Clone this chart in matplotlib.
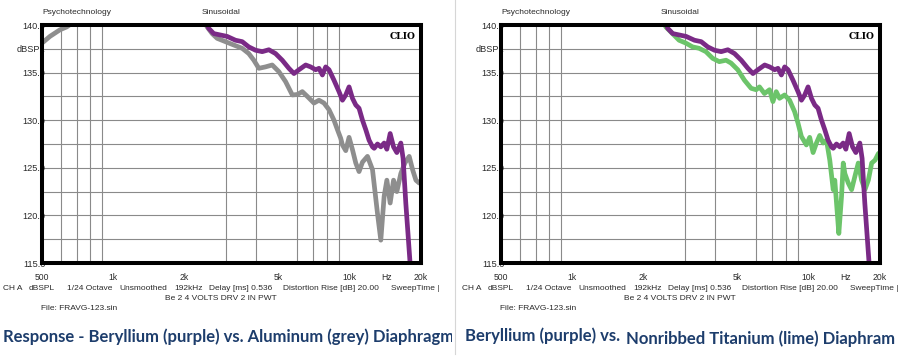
"""Two CLIO frequency-response screenshots side by side: Be vs Al, Be vs Ti."""
import matplotlib
matplotlib.use("Agg")
import matplotlib.pyplot as plt
import numpy as np
from matplotlib.ticker import FixedLocator, NullFormatter
from matplotlib.transforms import Bbox, TransformedBbox

# Beryllium (purple) - the same sweep appears on both panels
BE_F = [2470, 2533, 2659, 2839, 3031, 3287, 3510, 3742, 3995, 4264,
        4548, 4855, 5183, 5529, 5807, 6096, 6510, 6830, 7175, 7410,
        7660, 7910, 8170, 8575, 9005, 9310, 9615, 9930, 10265, 10600,
        10945, 11315, 11685, 12065, 12475, 12680, 13095, 13525, 13970, 14345,
        14815, 15310, 15810, 16435, 16800, 17250, 17700, 18100]
BE_DB = [140.4, 139.65, 139.1, 138.95, 138.8, 138.4, 138.25, 137.7, 137.35, 137.2,
         137.4, 137.0, 136.3, 135.45, 134.9, 135.3, 135.8, 135.6, 135.3, 135.45,
         134.75, 135.6, 135.3, 134.2, 133.0, 132.1, 132.65, 133.5, 132.3, 131.6,
         131.25, 130.0, 129.0, 127.9, 127.2, 127.05, 127.5, 127.2, 127.6, 126.95,
         128.6, 127.2, 126.6, 127.6, 126.0, 121.3, 117.4, 114.0]

# Aluminum (grey) - off the top of the chart between ~670 Hz and ~2.4 kHz
AL_F = [500, 540, 596, 636, 670, 1000, 2420, 2494, 2619, 2750,
        2982, 3233, 3510, 3742, 3930, 4126, 4403, 4700, 5015, 5354,
        5715, 6001, 6300, 6615, 7055, 7410, 7780, 8170, 8575, 8870,
        9155, 9310, 9615, 9930, 10265, 10600, 10945, 11315, 11880, 12475,
        13095, 13525, 13970, 14345, 14815, 15310, 15810, 16435, 17095, 17830,
        18430, 19035, 19655, 20000]
AL_DB = [138.1, 138.8, 139.5, 139.8, 140.2, np.nan, 140.5, 139.8, 139.1, 138.6,
         138.25, 137.9, 137.55, 137.0, 136.3, 135.45, 135.6, 135.8, 135.1, 134.05,
         132.65, 132.7, 133.0, 132.5, 131.8, 132.1, 131.8, 131.1, 130.0, 129.0,
         128.1, 127.4, 126.8, 128.2, 126.9, 125.5, 124.6, 125.6, 126.2, 124.8,
         120.2, 117.4, 122.0, 123.7, 121.3, 123.7, 122.5, 124.4, 125.5, 126.2,
         124.8, 123.7, 123.4, 123.6]

# Nonribbed titanium (lime)
TI_F = [2420, 2486, 2653, 2830, 3022, 3226, 3441, 3674, 3923, 4185,
        4469, 4692, 5009, 5346, 5706, 5992, 6188, 6497, 6823, 7054,
        7284, 7523, 7899, 8295, 8710, 9003, 9303, 9769, 10088, 10428,
        10772, 11124, 11500, 11879, 12268, 12684, 12882, 13099, 13396, 13755,
        13985, 14205, 14684, 15169, 15663, 16189, 16721, 17270, 17856, 18443,
        19049, 19690, 20000]
TI_DB = [140.5, 139.8, 139.1, 138.4, 138.1, 137.7, 137.55, 137.2, 136.5, 136.15,
         136.3, 136.0, 135.3, 134.2, 133.35, 133.2, 133.5, 132.8, 133.2, 131.95,
         133.0, 132.3, 132.65, 132.1, 130.9, 129.7, 128.3, 127.4, 128.2, 126.6,
         127.6, 128.4, 127.6, 127.9, 125.8, 122.7, 123.7, 121.3, 118.1, 122.0,
         125.5, 124.4, 123.4, 122.7, 124.1, 125.5, 123.7, 122.7, 123.7, 125.5,
         125.8, 126.5, 126.6]

GRID_F = [600, 700, 800, 900, 1000, 2000, 3000, 4000, 5000, 6000, 7000, 8000, 9000, 10000]
X_TICKS = [500, 1000, 2000, 5000, 10000, 14300, 20000]
X_LABELS = ["500", "1k", "2k", "5k", "10k", "Hz", "20k"]
Y_TICKS = [115, 117.5, 120, 122.5, 125, 127.5, 130, 132.5, 135, 137.5, 140]
Y_LABELS = ["115.0", "", "120.0", "", "125.0", "", "130.0", "", "135.0", "dBSPL", "140.0"]

INFO = [(3, "CH A"), (29, "dBSPL"), (67, "1/24 Octave"), (119, "Unsmoothed"), (174, "192kHz"),
        (209, "Delay [ms] 0.536"), (283, "Distortion Rise [dB] 20.00"), (391, "SweepTime |")]

PURPLE = "#7a2a86"
GREY = "#8e8e8e"
LIME = "#6cc46a"
NAVY = "#1d3d6c"
GRID_COL = "#8a8a8a"
TXT = "#2a2a2a"

W, H = 900, 358
fig = plt.figure(figsize=(W / 100, H / 100), dpi=100)
fig.patch.set_facecolor("white")


def ftext(x, y, s, **kw):
    # place text with figure pixel coords (y from top)
    kw.setdefault("fontsize", 6)
    kw.setdefault("color", TXT)
    kw.setdefault("family", "Liberation Sans")
    kw.setdefault("va", "center")
    return fig.text(x / W, 1 - y / H, s, **kw)


def panel(dx, curves):
    ax = fig.add_axes([(42 + dx) / W, 1 - 263 / H, 379 / W, 238 / H])
    for f, db, col in curves:
        ax.plot(f, db, color=col, lw=3.4, solid_capstyle="round", solid_joinstyle="round")
    ax.set_xscale("log")
    ax.set_xlim(500, 20000)
    ax.set_ylim(115, 140)
    ax.xaxis.set_major_locator(FixedLocator(X_TICKS))
    ax.xaxis.set_minor_locator(FixedLocator(GRID_F))
    ax.xaxis.set_minor_formatter(NullFormatter())
    ax.set_xticklabels(X_LABELS)
    ax.set_yticks(Y_TICKS)
    ax.set_yticklabels(Y_LABELS)
    ax.grid(True, which="minor", axis="x", color=GRID_COL, lw=0.8)
    ax.grid(True, which="major", axis="y", color=GRID_COL, lw=0.8)
    ax.tick_params(which="both", length=0, labelcolor=TXT)
    ax.tick_params(axis="x", pad=7, labelsize=6.2)
    ax.tick_params(axis="y", pad=-2.5, labelsize=6.6)
    for lab in ax.get_xticklabels() + ax.get_yticklabels():
        lab.set_family("Liberation Sans")
    for s in ax.spines.values():
        s.set_linewidth(2.9)
        s.set_color("black")
    ax.text(0.985, 0.97, "CLIO", transform=ax.transAxes, ha="right", va="top",
            family="DejaVu Serif", weight="bold", fontsize=6.6)

    ftext(42 + dx, 12, "Psychotechnology")
    ftext(202 + dx, 12, "Sinusoidal")
    for x, s in INFO:
        ftext(x + dx, 289, s)
    ftext(221 + dx, 299, "Be 2 4 VOLTS DRV 2 IN PWT", ha="center")
    ftext(41 + dx, 309, "File: FRAVG-123.sin")
    return ax


panel(0, [(AL_F, AL_DB, GREY), (BE_F, BE_DB, PURPLE)])
panel(459, [(TI_F, TI_DB, LIME), (BE_F, BE_DB, PURPLE)])

# thin divider between the two screenshots
fig.add_artist(plt.Line2D([455 / W, 455 / W], [0.01, 1], color="#d6d6d6", lw=0.8))

cap = dict(color=NAVY, family="Lato", weight="bold", fontsize=12)
t = ftext(3, 337, "Response - Beryllium (purple) vs. Aluminum (grey) Diaphragm", **cap)
t.set_clip_box(TransformedBbox(Bbox([[0, 0], [452 / W, 1]]), fig.transFigure))
ftext(465, 336, "Beryllium (purple) vs.", **cap)
ftext(626, 338.5, "Nonribbed Titanium (lime) Diaphram", **cap)

fig.savefig("out.png", dpi=100)
